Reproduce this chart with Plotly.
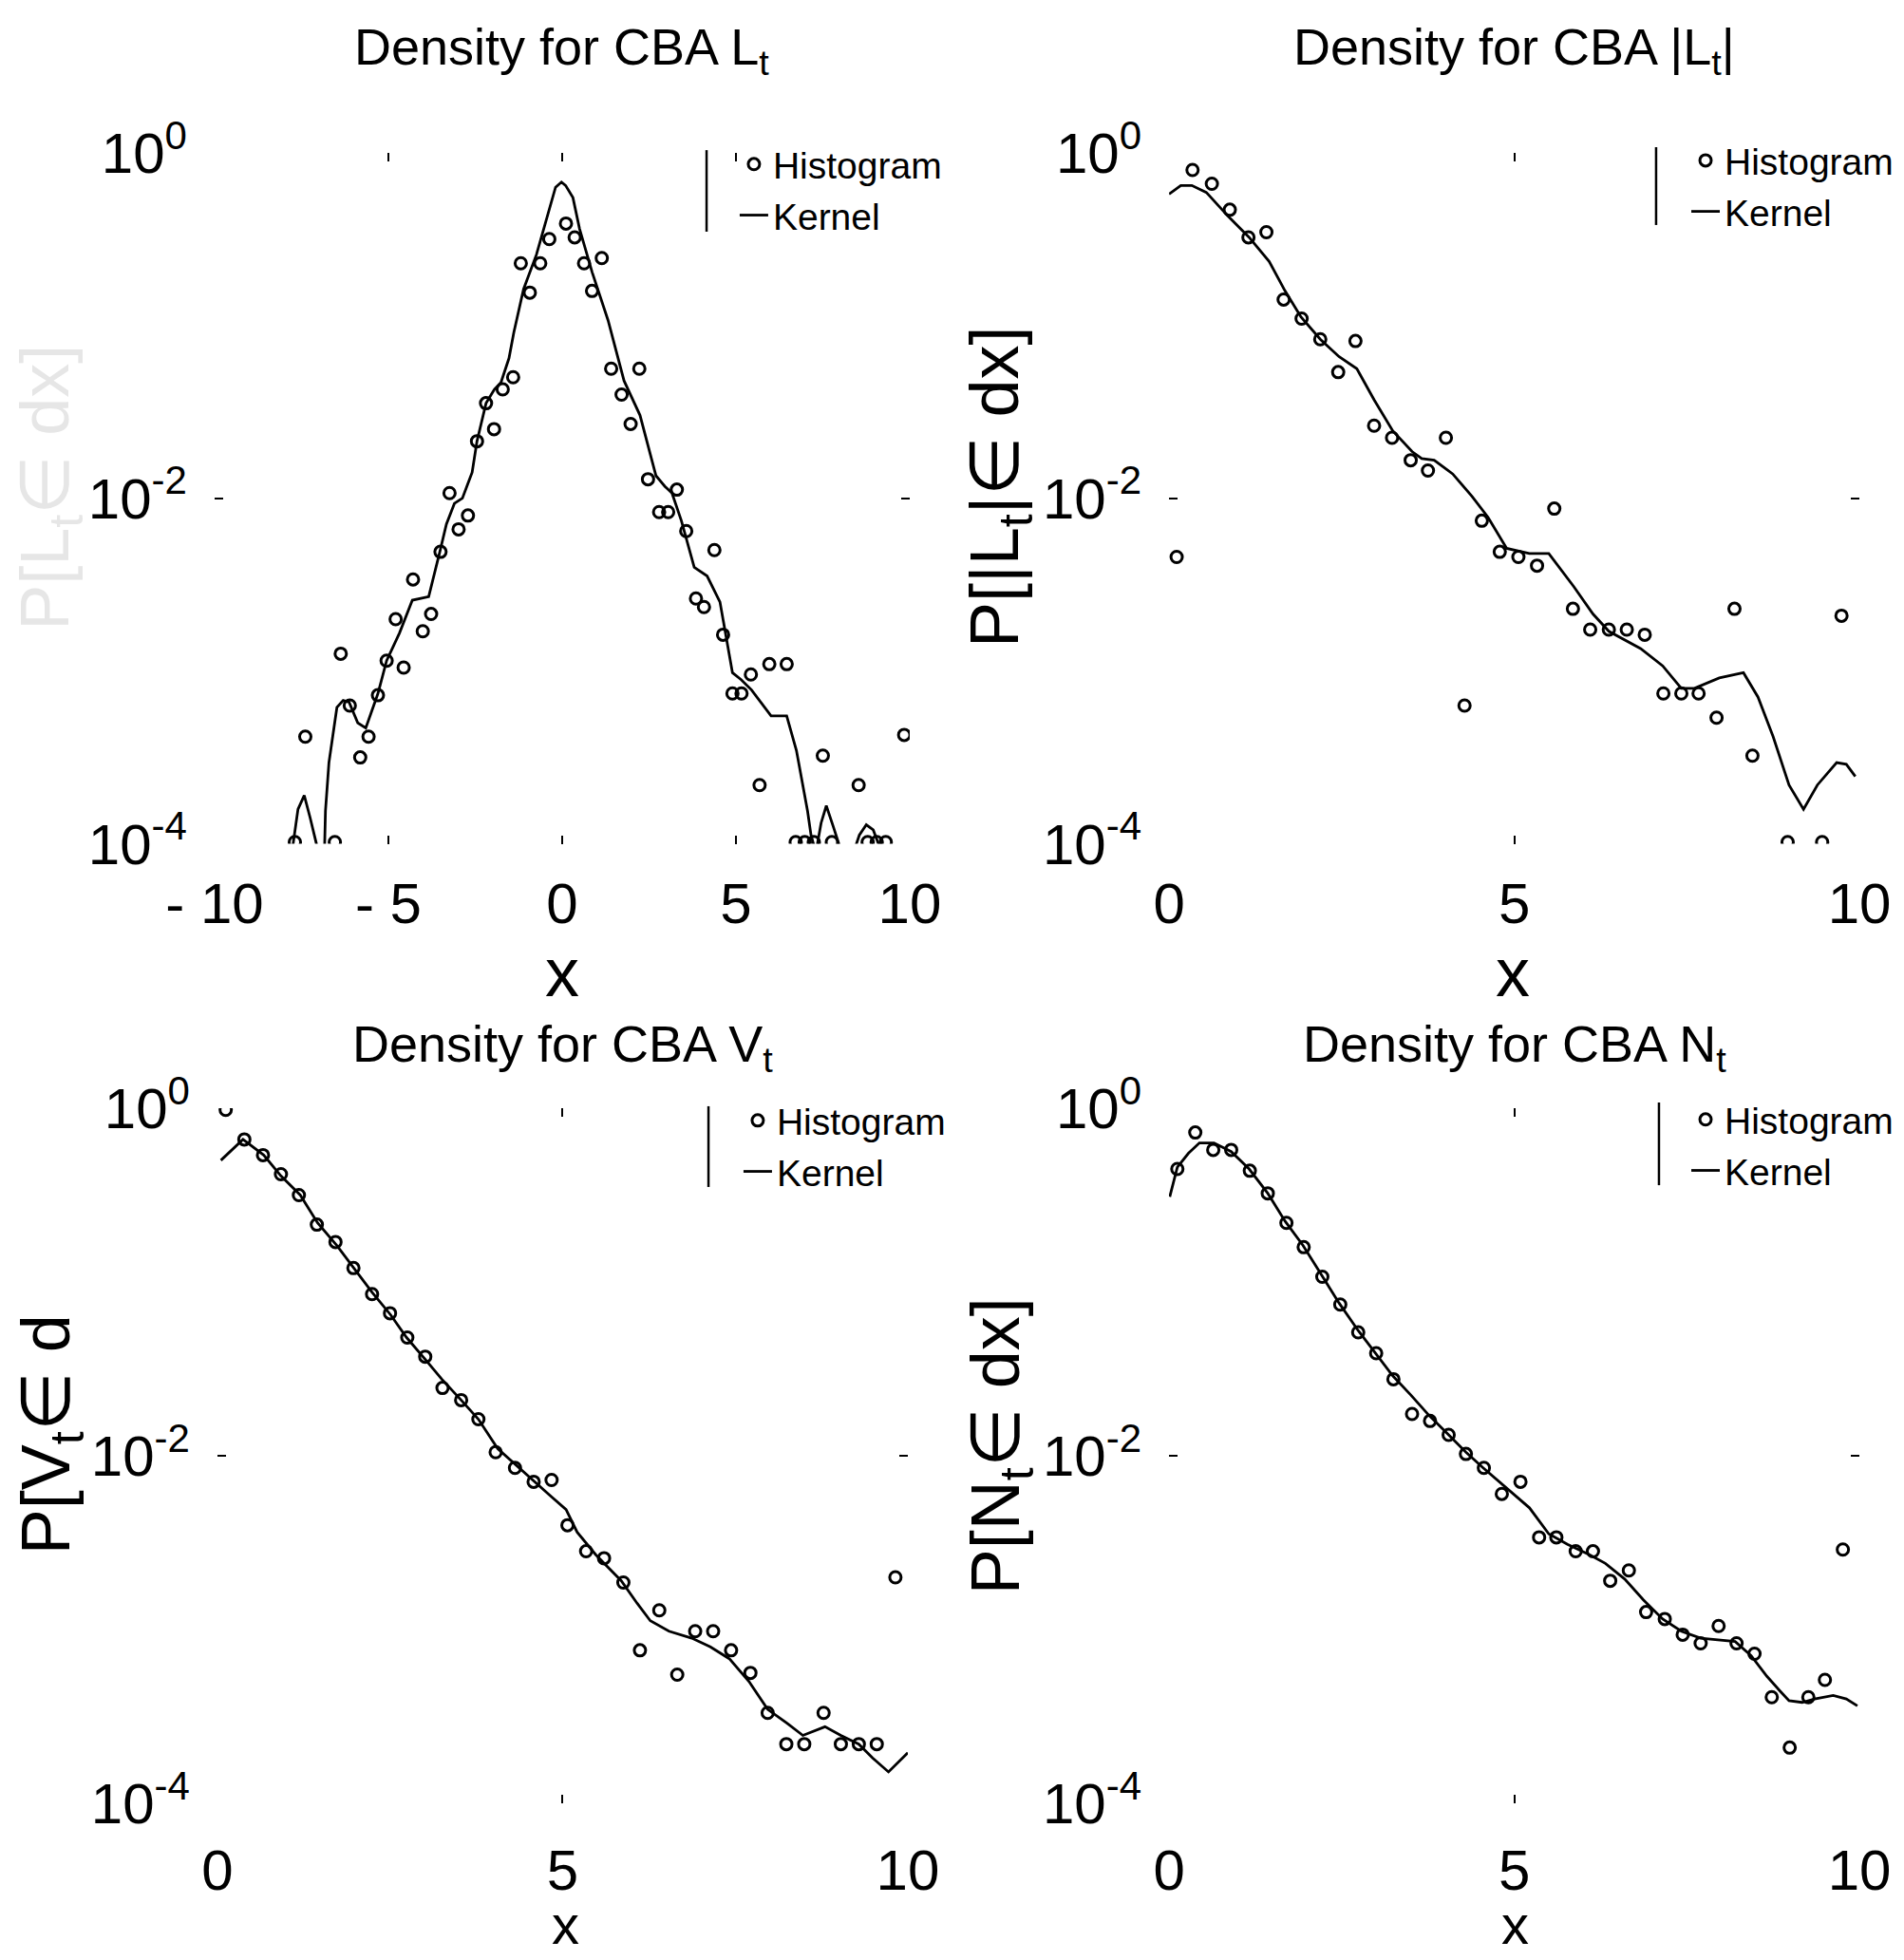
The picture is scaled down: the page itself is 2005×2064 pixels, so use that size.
import numpy as np
import plotly.graph_objects as go

FONT = "Liberation Sans, Arial, sans-serif"

# ---------------- data (log10 of density) ----------------
# Panel 1: L_t
l_hist_x = [-7.69, -7.39, -6.54, -6.37, -6.11, -5.81, -5.57, -5.30, -5.05, -4.79, -4.56, -4.29,
            -4.01, -3.77, -3.50, -3.24, -2.98, -2.71, -2.45, -2.19, -1.96, -1.71, -1.41, -1.19,
            -0.93, -0.63, -0.37, 0.11, 0.36, 0.63, 0.86, 1.14, 1.41, 1.71, 1.97, 2.22, 2.47,
            2.79, 3.05, 3.30, 3.57, 3.85, 4.08, 4.38, 4.63, 4.90, 5.16, 5.43, 5.68, 5.96, 6.46,
            6.72, 6.98, 7.24, 7.50, 7.76, 8.53, 8.79, 9.05, 9.31, 9.84]
l_hist_log = [-3.99, -3.38, -3.99, -2.90, -3.20, -3.50, -3.38, -3.14, -2.94, -2.70, -2.98, -2.47,
              -2.77, -2.67, -2.31, -1.97, -2.18, -2.10, -1.67, -1.45, -1.60, -1.37, -1.30, -0.64,
              -0.81, -0.64, -0.50, -0.41, -0.49, -0.64, -0.80, -0.61, -1.25, -1.40, -1.57, -1.25,
              -1.89, -2.08, -2.08, -1.95, -2.19, -2.58, -2.63, -2.30, -2.79, -3.13, -3.13, -3.02,
              -3.66, -2.96, -2.96, -3.99, -3.99, -3.99, -3.49, -3.99, -3.66, -3.99, -3.99, -3.99,
              -3.37]
l_kern_x = [-7.90, -7.74, -7.60, -7.42, -7.25, -7.07, -6.95, -6.85, -6.81, -6.71, -6.48, -6.30,
            -6.13, -5.88, -5.65, -5.30, -5.05, -4.68, -4.31, -4.05, -3.84, -3.52, -3.33, -3.10,
            -2.87, -2.59, -2.45, -2.19, -1.95, -1.76, -1.53, -1.39, -1.11, -0.74, -0.46, -0.19,
            -0.02, 0.10, 0.31, 0.50, 0.86, 1.32, 1.78, 2.24, 2.70, 2.95, 3.16, 3.43, 3.80, 4.17,
            4.54, 4.72, 4.90, 5.15, 5.45, 6.01, 6.46, 6.74, 6.95, 7.06, 7.16, 7.30, 7.45, 7.60,
            7.80, 8.04, 8.30, 8.55, 8.75, 8.95, 9.10, 9.30]
l_kern_log = [-4.30, -4.00, -3.80, -3.72, -3.85, -4.00, -4.40, -4.15, -3.81, -3.53, -3.21, -3.17,
              -3.18, -3.30, -3.33, -3.13, -2.94, -2.78, -2.59, -2.58, -2.57, -2.31, -2.15, -2.03,
              -2.00, -1.85, -1.67, -1.45, -1.37, -1.33, -1.19, -1.04, -0.79, -0.59, -0.39, -0.20,
              -0.17, -0.19, -0.26, -0.44, -0.69, -0.97, -1.32, -1.52, -1.87, -1.93, -1.97, -2.13,
              -2.40, -2.45, -2.60, -2.81, -3.01, -3.05, -3.11, -3.26, -3.26, -3.46, -3.70, -3.81,
              -3.95, -4.05, -3.88, -3.78, -3.90, -4.05, -4.10, -3.95, -3.89, -3.92, -4.00, -4.20]

# Panel 2: |L_t|
a_hist_x = [0.11, 0.34, 0.62, 0.88, 1.15, 1.41, 1.66, 1.92, 2.19, 2.45, 2.70, 2.97, 3.23, 3.50,
            3.75, 4.01, 4.28, 4.53, 4.79, 5.06, 5.33, 5.58, 5.85, 6.10, 6.37, 6.63, 6.89, 7.16,
            7.42, 7.67, 7.93, 8.19, 8.45, 8.96, 9.46, 9.74]
a_hist_log = [-2.34, -0.10, -0.18, -0.33, -0.49, -0.46, -0.85, -0.96, -1.08, -1.27, -1.09, -1.58,
              -1.65, -1.78, -1.84, -1.65, -3.20, -2.13, -2.31, -2.34, -2.39, -2.06, -2.64, -2.76,
              -2.76, -2.76, -2.79, -3.13, -3.13, -3.13, -3.27, -2.64, -3.49, -3.99, -3.99, -2.68]
a_kern_x = [0.00, 0.17, 0.33, 0.54, 0.86, 1.16, 1.45, 1.68, 1.91, 2.19, 2.46, 2.72, 2.97, 3.24,
            3.52, 3.66, 3.84, 4.11, 4.39, 4.62, 4.89, 5.22, 5.50, 5.86, 6.14, 6.37, 6.83, 7.15,
            7.42, 7.61, 7.97, 8.32, 8.53, 8.75, 8.98, 9.19, 9.39, 9.67, 9.81, 9.94]
a_kern_log = [-0.24, -0.19, -0.19, -0.23, -0.37, -0.49, -0.63, -0.80, -0.95, -1.08, -1.18, -1.25,
              -1.43, -1.61, -1.73, -1.77, -1.78, -1.86, -1.99, -2.11, -2.29, -2.32, -2.32, -2.51,
              -2.67, -2.77, -2.87, -2.97, -3.10, -3.10, -3.04, -3.01, -3.15, -3.38, -3.66, -3.80,
              -3.66, -3.53, -3.54, -3.61]

# Panel 3: V_t
v_hist_x = [0.12, 0.39, 0.66, 0.92, 1.18, 1.44, 1.71, 1.97, 2.24, 2.50, 2.75, 3.01, 3.26, 3.53,
            3.78, 4.03, 4.31, 4.58, 4.84, 5.07, 5.34, 5.60, 5.88, 6.12, 6.40, 6.66, 6.92, 7.18,
            7.44, 7.72, 7.97, 8.24, 8.50, 8.78, 9.03, 9.29, 9.55, 9.82]
v_hist_log = [-0.01, -0.18, -0.27, -0.38, -0.50, -0.67, -0.77, -0.92, -1.07, -1.18, -1.32, -1.43,
              -1.61, -1.68, -1.79, -1.98, -2.07, -2.15, -2.14, -2.40, -2.55, -2.59, -2.73, -3.12,
              -2.89, -3.26, -3.01, -3.01, -3.12, -3.25, -3.48, -3.66, -3.66, -3.48, -3.66, -3.66,
              -3.66, -2.70]
v_kern_x = [0.05, 0.37, 0.67, 0.92, 1.20, 1.45, 1.73, 1.98, 2.24, 2.51, 2.74, 3.02, 3.25, 3.53,
            3.78, 4.06, 4.31, 4.56, 4.82, 5.05, 5.21, 5.48, 5.85, 6.08, 6.27, 6.54, 6.87, 7.14,
            7.42, 7.70, 7.97, 8.25, 8.48, 8.80, 9.03, 9.29, 9.49, 9.72, 10.00]
v_kern_log = [-0.30, -0.18, -0.27, -0.39, -0.50, -0.66, -0.79, -0.92, -1.06, -1.19, -1.32, -1.45,
              -1.56, -1.68, -1.79, -1.96, -2.05, -2.14, -2.23, -2.31, -2.44, -2.57, -2.72, -2.85,
              -2.95, -3.01, -3.05, -3.10, -3.17, -3.30, -3.46, -3.54, -3.61, -3.56, -3.61, -3.66,
              -3.74, -3.82, -3.71]

# Panel 4: N_t
n_hist_x = [0.12, 0.38, 0.64, 0.90, 1.17, 1.43, 1.70, 1.95, 2.22, 2.48, 2.74, 3.00, 3.25, 3.52,
            3.78, 4.05, 4.30, 4.56, 4.82, 5.09, 5.36, 5.61, 5.89, 6.14, 6.39, 6.66, 6.91, 7.18,
            7.44, 7.70, 7.96, 8.22, 8.48, 8.73, 8.99, 9.26, 9.50, 9.76]
n_hist_log = [-0.35, -0.14, -0.24, -0.24, -0.36, -0.49, -0.66, -0.80, -0.97, -1.13, -1.29, -1.41,
              -1.56, -1.76, -1.80, -1.88, -1.99, -2.07, -2.22, -2.15, -2.47, -2.47, -2.55, -2.55,
              -2.72, -2.66, -2.90, -2.94, -3.03, -3.08, -2.98, -3.08, -3.14, -3.39, -3.68, -3.39,
              -3.29, -2.54]
n_kern_x = [0.01, 0.12, 0.28, 0.44, 0.65, 0.90, 1.16, 1.43, 1.68, 1.94, 2.21, 2.46, 2.74, 2.99,
            3.24, 3.50, 3.77, 4.05, 4.30, 4.55, 4.78, 5.01, 5.22, 5.50, 5.77, 6.09, 6.32, 6.60,
            6.87, 7.15, 7.42, 7.70, 7.97, 8.20, 8.43, 8.66, 8.84, 8.98, 9.17, 9.35, 9.62, 9.81,
            9.97]
n_kern_log = [-0.51, -0.34, -0.26, -0.20, -0.20, -0.25, -0.35, -0.49, -0.65, -0.79, -0.96, -1.12,
              -1.28, -1.41, -1.54, -1.65, -1.77, -1.88, -1.98, -2.07, -2.15, -2.23, -2.30, -2.45,
              -2.51, -2.57, -2.62, -2.71, -2.83, -2.94, -3.01, -3.05, -3.06, -3.07, -3.15, -3.27,
              -3.35, -3.41, -3.42, -3.40, -3.38, -3.40, -3.44]

titles = ["Density for CBA L<sub>t</sub>", "Density for CBA |L<sub>t</sub>|",
          "Density for CBA V<sub>t</sub>", "Density for CBA N<sub>t</sub>"]
ylabels = ["P[L<sub>t</sub>∈ dx]", "P[|L<sub>t</sub>|∈ dx]",
           "P[V<sub>t</sub>∈ d", "P[N<sub>t</sub>∈ dx]"]
x_ticks_sym = [-10, -5, 0, 5, 10]
x_ticktext_sym = ["- 10", "- 5", "0", "5", "10"]
x_ticks_pos = [0, 5, 10]
x_ticktext_pos = ["0", "5", "10"]
y_ticks = [1e-4, 1e-2, 1]
y_ticktext = ["10<sup>-4</sup>", "10<sup>-2</sup>", "10<sup>0</sup>"]

# ---------------- layout geometry ----------------
xdom = [[0.1127, 0.4778], [0.6140, 0.9766], [0.1142, 0.4768], [0.6140, 0.9766]]
ydom = [[0.5695, 0.9221], [0.5695, 0.9221], [0.0800, 0.4346], [0.0800, 0.4346]]
xlab_standoff = [22, 22, 30, 30]

panels = [
    (l_hist_x, l_hist_log, l_kern_x, l_kern_log),
    (a_hist_x, a_hist_log, a_kern_x, a_kern_log),
    (v_hist_x, v_hist_log, v_kern_x, v_kern_log),
    (n_hist_x, n_hist_log, n_kern_x, n_kern_log),
]

fig = go.Figure()
for i, (hx, hl, kx, kl) in enumerate(panels):
    xa = "x" if i == 0 else f"x{i+1}"
    ya = "y" if i == 0 else f"y{i+1}"
    leg = "legend" if i == 0 else f"legend{i+1}"
    fig.add_trace(go.Scatter(
        x=hx, y=np.power(10.0, hl), mode="markers", name="Histogram",
        marker=dict(symbol="circle-open", size=12, color="black", line=dict(width=3, color="black")),
        xaxis=xa, yaxis=ya, legend=leg, showlegend=True))
    fig.add_trace(go.Scatter(
        x=kx, y=np.power(10.0, kl), mode="lines", name="Kernel",
        line=dict(color="black", width=2.8),
        xaxis=xa, yaxis=ya, legend=leg, showlegend=True))

tickfont = dict(family=FONT, size=60, color="black")
common = dict(showgrid=False, zeroline=False, showline=False, ticks="inside", ticklen=9,
              tickwidth=2, tickcolor="black", mirror="ticks", tickfont=tickfont, automargin=False)

layout = dict(width=2005, height=2064,
              margin=dict(l=0, r=0, t=0, b=0, pad=0, autoexpand=False),
              paper_bgcolor="white", plot_bgcolor="white", showlegend=True)
for i in range(4):
    xk = "xaxis" if i == 0 else f"xaxis{i+1}"
    yk = "yaxis" if i == 0 else f"yaxis{i+1}"
    ya = "y" if i == 0 else f"y{i+1}"
    xa = "x" if i == 0 else f"x{i+1}"
    if i == 0:
        xr, tv, tt = [-10, 10], x_ticks_sym, x_ticktext_sym
    else:
        xr, tv, tt = [0, 10], x_ticks_pos, x_ticktext_pos
    layout[xk] = dict(common, domain=xdom[i], range=xr, tickvals=tv, ticktext=tt,
                      anchor=ya, ticklabelstandoff=xlab_standoff[i])
    layout[yk] = dict(common, domain=ydom[i], type="log", range=[-4, 0], tickvals=y_ticks,
                      ticktext=y_ticktext, anchor=xa, ticklabelstandoff=28)

# legends
leg_pos = [(0.386, 0.9317), (0.8858, 0.9336), (0.388, 0.4438), (0.8858, 0.4443)]
for i, (lx, ly) in enumerate(leg_pos):
    key = "legend" if i == 0 else f"legend{i+1}"
    layout[key] = dict(x=lx, y=ly, xanchor="left", yanchor="top", bgcolor="rgba(0,0,0,0)",
                       borderwidth=0, font=dict(family=FONT, size=39, color="black"),
                       tracegroupgap=0, itemwidth=30)

fig.update_layout(**layout)

# legend box remnants (left edge of legend frame)
vlines = [(0.3711, 0.8818, 0.9234), (0.8698, 0.8852, 0.9249),
          (0.3721, 0.3944, 0.4356), (0.8713, 0.3953, 0.4375)]
for (vx, y0, y1) in vlines:
    fig.add_shape(type="line", xref="paper", yref="paper", x0=vx, x1=vx, y0=y0, y1=y1,
                  line=dict(color="black", width=2.5))

# titles
title_y = [0.9743, 0.9743, 0.4656, 0.4656]
for i in range(4):
    cx = (xdom[i][0] + xdom[i][1]) / 2
    fig.add_annotation(text=titles[i], xref="paper", yref="paper", x=cx, y=title_y[i],
                       xanchor="center", yanchor="middle", showarrow=False,
                       font=dict(family=FONT, size=54, color="black"))

# x labels
xl_pos = [(0.2953, 0.5039, 72), (0.7945, 0.5039, 72), (0.2968, 0.0180, 58), (0.796, 0.0180, 58)]
for (px, py, fs) in xl_pos:
    fig.add_annotation(text="x", xref="paper", yref="paper", x=px, y=py, xanchor="center",
                       yanchor="middle", showarrow=False,
                       font=dict(family=FONT, size=fs, color="black"))

# y labels
yl = [(0.0264, 0.7515, "middle", "#e6e6e6"), (0.5252, 0.7515, "middle", "black"),
      (0.0264, 0.2060, "bottom", "black"), (0.5252, 0.2620, "middle", "black")]
for i, (px, py, yanc, col) in enumerate(yl):
    fig.add_annotation(text=ylabels[i], xref="paper", yref="paper", x=px, y=py, xanchor="center",
                       yanchor=yanc, textangle=-90, showarrow=False,
                       font=dict(family=FONT, size=72, color=col))

fig.write_html("out.html")
